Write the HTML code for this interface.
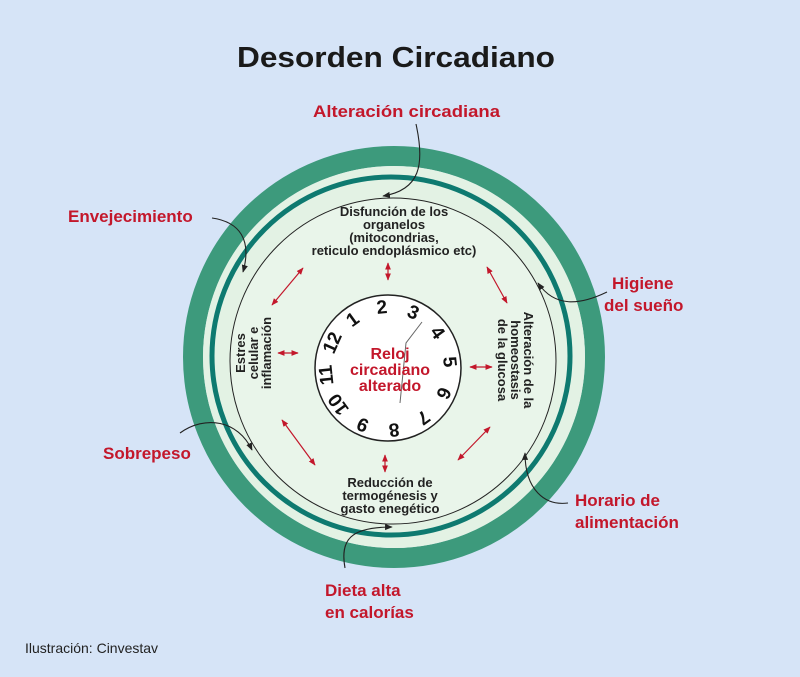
<!DOCTYPE html>
<html><head><meta charset="utf-8"><style>
html,body{margin:0;padding:0;background:#d6e4f7;}
svg{display:block}
text{font-family:"Liberation Sans",sans-serif;}
.r{fill:#c3172b;font-weight:bold;font-size:17px;}
.d{fill:#222;font-weight:bold;font-size:13px;}
.n{fill:#111;font-weight:bold;font-size:19px;text-anchor:middle;dominant-baseline:central;}
</style></head><body>
<svg width="800" height="677" viewBox="0 0 800 677" xmlns="http://www.w3.org/2000/svg">
<defs>
<marker id="a" viewBox="0 0 10 10" refX="9" refY="5" markerWidth="6" markerHeight="6" orient="auto-start-reverse"><path d="M0,1 L10,5 L0,9 z" fill="#c3172b"/></marker>
<marker id="k" viewBox="0 0 10 10" refX="9" refY="5" markerWidth="7" markerHeight="7" orient="auto"><path d="M0,1 L10,5 L0,9 z" fill="#222"/></marker>
</defs>
<rect width="800" height="677" fill="#d6e4f7"/>
<text x="237" y="67" font-size="29" font-weight="bold" fill="#1a1a1a" textLength="318" lengthAdjust="spacingAndGlyphs">Desorden Circadiano</text>

<circle cx="394" cy="357" r="201" fill="none" stroke="#3d9a7c" stroke-width="20"/>
<circle cx="394" cy="357" r="191" fill="#e3f2e4"/>
<circle cx="391" cy="356" r="179" fill="none" stroke="#0e7a70" stroke-width="5"/>
<circle cx="393" cy="361" r="163" fill="#e9f5ea" stroke="#222" stroke-width="1"/>
<circle cx="388" cy="368" r="73" fill="#fff" stroke="#222" stroke-width="1.5"/>

<text class="n" x="353" y="320" transform="rotate(-36 353 320)">1</text>
<text class="n" x="382" y="308" transform="rotate(-6 382 308)">2</text>
<text class="n" x="413" y="313" transform="rotate(24 413 313)">3</text>
<text class="n" x="437" y="333" transform="rotate(54 437 333)">4</text>
<text class="n" x="449" y="362" transform="rotate(84 449 362)">5</text>
<text class="n" x="443" y="393" transform="rotate(114 443 393)">6</text>
<text class="n" x="423" y="417" transform="rotate(144 423 417)">7</text>
<text class="n" x="394" y="429" transform="rotate(174 394 429)">8</text>
<text class="n" x="363" y="424" transform="rotate(204 363 424)">9</text>
<text class="n" x="339" y="404" transform="rotate(234 339 404)">10</text>
<text class="n" x="327" y="375" transform="rotate(264 327 375)">11</text>
<text class="n" x="333" y="343" transform="rotate(294 333 343)">12</text>
<path d="M422,322 L406,343 L400,403" fill="none" stroke="#666" stroke-width="1"/>
<g class="r" text-anchor="middle">
<text x="390" y="359" font-size="16">Reloj</text>
<text x="390" y="375" font-size="16">circadiano</text>
<text x="390" y="391" font-size="16">alterado</text>
</g>

<g class="d" text-anchor="middle">
<text x="394" y="216">Disfunción de los</text>
<text x="394" y="229">organelos</text>
<text x="394" y="242">(mitocondrias,</text>
<text x="394" y="255">reticulo endoplásmico etc)</text>
<text x="390" y="487">Reducción de</text>
<text x="390" y="500">termogénesis y</text>
<text x="390" y="513">gasto enegético</text>
<g transform="translate(253,353) rotate(-90)">
<text x="0" y="-8">Estres</text><text x="0" y="5">celular e</text><text x="0" y="18">inflamación</text>
</g>
<g transform="translate(516,360) rotate(90)">
<text x="0" y="-8">Alteración de la</text><text x="0" y="5">homeostasis</text><text x="0" y="18">de la glucosa</text>
</g>
</g>

<g stroke="#c3172b" stroke-width="1.2" marker-start="url(#a)" marker-end="url(#a)">
<line x1="388" y1="263" x2="388" y2="280"/>
<line x1="303" y1="268" x2="272" y2="305"/>
<line x1="487" y1="267" x2="507" y2="303"/>
<line x1="278" y1="353" x2="298" y2="353"/>
<line x1="470" y1="367" x2="492" y2="367"/>
<line x1="282" y1="420" x2="315" y2="465"/>
<line x1="490" y1="427" x2="458" y2="460"/>
<line x1="385" y1="455" x2="385" y2="472"/>
</g>

<g fill="none" stroke="#222" stroke-width="1.1" marker-end="url(#k)">
<path d="M416,124 C425,165 420,190 383,196"/>
<path d="M212,218 C240,222 252,240 243,272"/>
<path d="M607,292 C580,305 555,308 538,283"/>
<path d="M180,433 C205,415 238,420 252,450"/>
<path d="M568,503 C545,506 525,490 525,453"/>
<path d="M345,568 C340,540 350,527 392,527"/>
</g>

<text class="r" x="313" y="117" textLength="187" lengthAdjust="spacingAndGlyphs">Alteración circadiana</text>
<text class="r" x="68" y="222">Envejecimiento</text>
<text class="r" x="612" y="289">Higiene</text>
<text class="r" x="604" y="311">del sueño</text>
<text class="r" x="103" y="459">Sobrepeso</text>
<text class="r" x="575" y="506">Horario de</text>
<text class="r" x="575" y="528">alimentación</text>
<text class="r" x="325" y="596">Dieta alta</text>
<text class="r" x="325" y="618">en calorías</text>
<text x="25" y="653" font-size="14" fill="#222">Ilustración: Cinvestav</text>
</svg>
</body></html>
